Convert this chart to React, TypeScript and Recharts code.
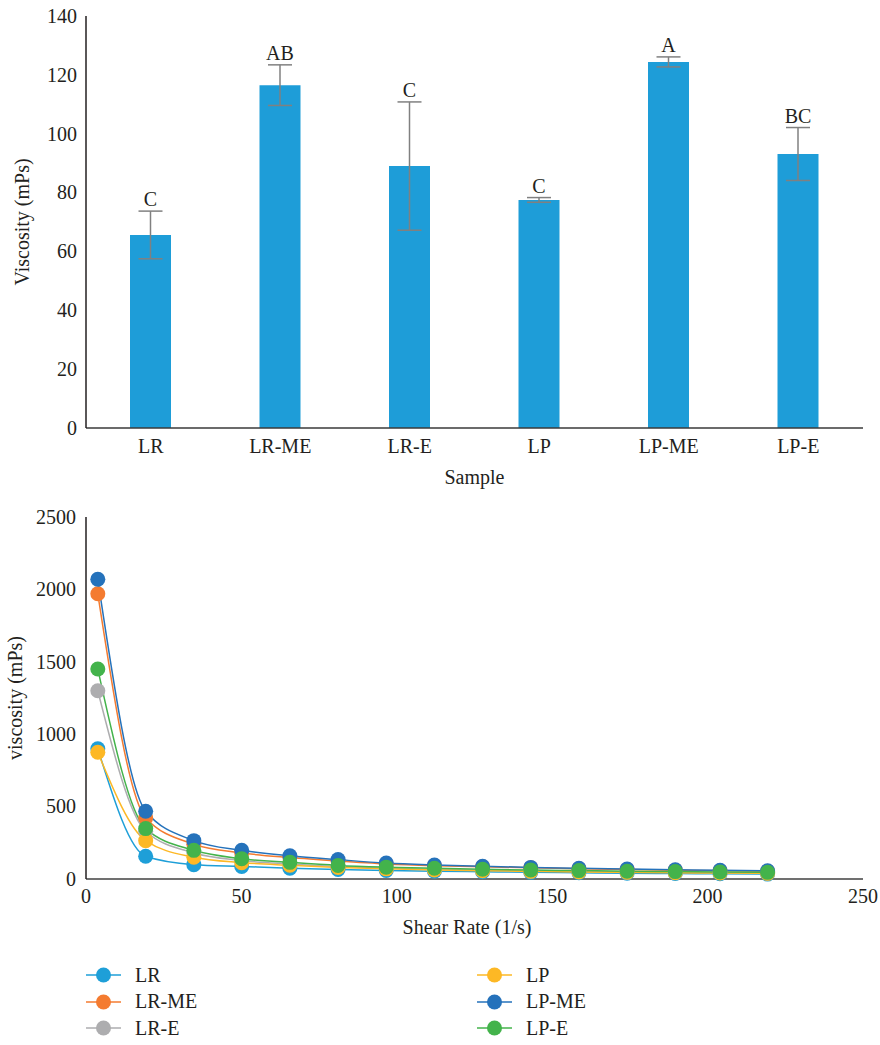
import React from 'react';
import { BarChart, Bar, XAxis, YAxis, ErrorBar, LabelList, LineChart, Line } from 'recharts';

// ---- Top chart data ----
const samples = ['LR', 'LR-ME', 'LR-E', 'LP', 'LP-ME', 'LP-E'];
const meanViscosity = [65.6, 116.5, 89.0, 77.5, 124.4, 93.1];
const sdViscosity = [8.1, 6.9, 21.8, 0.8, 1.7, 9.0];
const groupLetters = ['C', 'AB', 'C', 'C', 'A', 'BC'];
const barTicks = [0, 20, 40, 60, 80, 100, 120, 140];

// ---- Bottom chart data ----
const shearRate = [3.8, 19.2, 34.7, 50.1, 65.6, 81.1, 96.6, 112.1, 127.6, 143.1, 158.6, 174.1, 189.6, 204.0, 219.3];
const lrVals = [900, 157, 99, 87, 75, 66, 59, 54, 50, 46, 43, 40, 38, 36, 34];
const lrMeVals = [1970, 422, 240, 180, 148, 124, 104, 92, 84, 77, 71, 66, 61, 57, 54];
const lrEVals = [1300, 330, 180, 128, 104, 86, 75, 67, 61, 56, 52, 49, 46, 44, 42];
const lpVals = [875, 265, 150, 113, 95, 80, 70, 63, 57, 53, 49, 46, 43, 41, 39];
const lpMeVals = [2070, 468, 265, 198, 161, 134, 110, 97, 88, 80, 74, 69, 64, 60, 57];
const lpEVals = [1450, 348, 198, 140, 115, 94, 82, 74, 67, 62, 58, 54, 51, 48, 46];
const xTicks = [0, 50, 100, 150, 200, 250];
const yTicks = [0, 500, 1000, 1500, 2000, 2500];

const seriesDefs = [
  { key: 'LR', values: lrVals, color: '#1E9FD8' },
  { key: 'LR-ME', values: lrMeVals, color: '#F47B30' },
  { key: 'LR-E', values: lrEVals, color: '#ADADAF' },
  { key: 'LP', values: lpVals, color: '#FDB825' },
  { key: 'LP-ME', values: lpMeVals, color: '#2572BB' },
  { key: 'LP-E', values: lpEVals, color: '#43B34B' },
];

const barData = samples.map((s, i) => ({
  sample: s,
  mean: meanViscosity[i],
  err: sdViscosity[i],
  letter: groupLetters[i],
}));

const lineData = shearRate.map((x, i) => {
  const row: any = { x };
  seriesDefs.forEach((s) => (row[s.key] = s.values[i]));
  return row;
});

const FONT = '"Liberation Serif", "DejaVu Serif", serif';
const TXT = '#231f20';
const FS = 20;

const LetterLabel = (props: any) => {
  const { x, y, width, height, index } = props;
  const d = barData[index];
  const pxPerUnit = height / d.mean;
  const errTop = y - d.err * pxPerUnit;
  return (
    <text x={x + width / 2} y={errTop - 5} textAnchor="middle" fontFamily={FONT} fontSize={FS} fill={TXT}>
      {d.letter}
    </text>
  );
};

const YTick = (props: any) => (
  <text x={props.x} y={props.y} dy="0.34em" textAnchor="end" fontFamily={FONT} fontSize={FS} fill={TXT}>
    {props.payload.value}
  </text>
);

const XTick = (props: any) => (
  <text x={props.x} y={props.y} dy="0.71em" textAnchor="middle" fontFamily={FONT} fontSize={FS} fill={TXT}>
    {props.payload.value}
  </text>
);

export default function App() {
  return (
    <div style={{ position: 'absolute', left: 0, top: 0, width: 880, height: 1045, background: '#fff' }}>
      <div style={{ position: 'absolute', left: 0, top: 0 }}>
        <BarChart width={880} height={500} data={barData} margin={{ top: 16, right: 17, left: 0, bottom: 0 }} barCategoryGap={0}>
          <XAxis
            dataKey="sample"
            height={72}
            tickLine={false}
            axisLine={{ stroke: '#3a3a3a', strokeWidth: 1.5 }}
            tickMargin={5}
            tick={XTick}
            label={(p: any) => {
              const vb = p.viewBox;
              return (
                <text x={vb.x + vb.width / 2} y={484} textAnchor="middle" fontFamily={FONT} fontSize={FS} fill={TXT}>
                  Sample
                </text>
              );
            }}
          />
          <YAxis
            width={86}
            domain={[0, 140]}
            ticks={barTicks}
            tickLine={false}
            axisLine={{ stroke: '#231f20', strokeWidth: 1.5 }}
            tickMargin={3}
            tick={YTick}
            label={(p: any) => {
              const vb = p.viewBox;
              const cx = 22;
              const cy = vb.y + vb.height / 2;
              return (
                <text x={cx} y={cy} transform={`rotate(-90 ${cx} ${cy})`} textAnchor="middle" dominantBaseline="central" fontFamily={FONT} fontSize={FS} fill={TXT}>
                  Viscosity (mPs)
                </text>
              );
            }}
          />
          <Bar dataKey="mean" fill="#1E9DD8" barSize={41} isAnimationActive={false}>
            <ErrorBar dataKey="err" width={12} stroke="#808080" strokeWidth={1.5} />
            <LabelList dataKey="letter" content={LetterLabel} />
          </Bar>
        </BarChart>
      </div>

      <div style={{ position: 'absolute', left: 0, top: 500 }}>
        <LineChart width={880} height={445} data={lineData} margin={{ top: 17, right: 17, left: 0, bottom: 0 }}>
          <XAxis
            type="number"
            dataKey="x"
            domain={[0, 250]}
            ticks={xTicks}
            height={66}
            tickLine={false}
            axisLine={{ stroke: '#707070', strokeWidth: 2 }}
            tickMargin={4}
            tick={XTick}
            label={() => (
              <text x={467} y={434} textAnchor="middle" fontFamily={FONT} fontSize={FS} fill={TXT}>
                Shear Rate (1/s)
              </text>
            )}
          />
          <YAxis
            width={86}
            domain={[0, 2500]}
            ticks={yTicks}
            tickLine={false}
            axisLine={{ stroke: '#231f20', strokeWidth: 1.5 }}
            tickMargin={4}
            tick={YTick}
            label={(p: any) => {
              const vb = p.viewBox;
              const cx = 15;
              const cy = vb.y + vb.height / 2;
              return (
                <text x={cx} y={cy} transform={`rotate(-90 ${cx} ${cy})`} textAnchor="middle" dominantBaseline="central" fontFamily={FONT} fontSize={FS} fill={TXT}>
                  viscosity (mPs)
                </text>
              );
            }}
          />
          {seriesDefs.map((s) => (
            <Line
              key={s.key}
              type="monotone"
              dataKey={s.key}
              stroke={s.color}
              strokeWidth={1.5}
              dot={{ r: 7.5, fill: s.color, stroke: 'none' }}
              activeDot={false}
              isAnimationActive={false}
            />
          ))}
        </LineChart>
      </div>

      <div style={{ position: 'absolute', left: 0, top: 958, width: 880 }}>
        {seriesDefs.map((s, i) => {
          const col = i < 3 ? 0 : 1;
          const row = i % 3;
          const left = col === 0 ? 86 : 477;
          const top = row * 26.5;
          return (
            <div key={s.key} style={{ position: 'absolute', left, top, height: 34, display: 'flex', alignItems: 'center' }}>
              <svg width={36} height={34}>
                <line x1={0} y1={17} x2={35} y2={17} stroke={s.color} strokeWidth={1.5} />
                <circle cx={17.5} cy={17} r={7.5} fill={s.color} />
              </svg>
              <span style={{ marginLeft: 13, fontFamily: FONT, fontSize: FS, color: TXT }}>{s.key}</span>
            </div>
          );
        })}
      </div>
    </div>
  );
}
